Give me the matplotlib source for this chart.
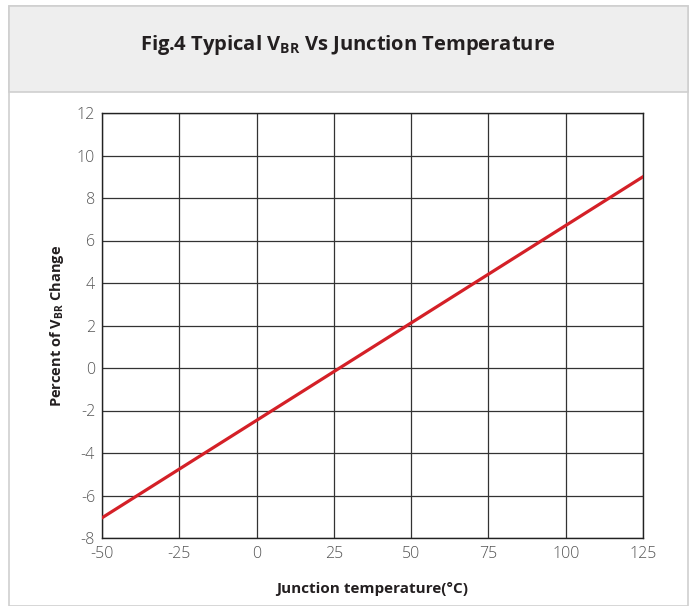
import matplotlib
matplotlib.use("Agg")
import matplotlib.pyplot as plt
from matplotlib.patches import Rectangle

temps = [-50, 125]
vbr_change = [-7.05, 9.0]
xticks = [-50, -25, 0, 25, 50, 75, 100, 125]
yticks = [-8, -6, -4, -2, 0, 2, 4, 6, 8, 10, 12]

plt.rcParams['font.family'] = ['Open Sans', 'DejaVu Sans']
plt.rcParams['mathtext.fontset'] = 'custom'
plt.rcParams['mathtext.rm'] = 'Open Sans'
plt.rcParams['mathtext.bf'] = 'Open Sans:bold'
plt.rcParams['axes.unicode_minus'] = False

fig = plt.figure(figsize=(6.96, 6.06), dpi=100)
W, H = 696, 606
# outer frame and header band
fig.patches.append(Rectangle((9/W, 0), (688-9)/W, (606-6)/H, transform=fig.transFigure,
                             facecolor='white', edgecolor='#cfcfcf', lw=1.2, zorder=-2))
fig.patches.append(Rectangle((9/W, 1-92/H), (688-9)/W, (92-6)/H, transform=fig.transFigure,
                             facecolor='#eeeeee', edgecolor='#cfcfcf', lw=1.2, zorder=-1))
fig.text(0.5, 1-45/H, r'Fig.4 Typical V$_{\mathbf{BR}}$ Vs Junction Temperature',
         ha='center', va='center', fontsize=14.5, fontweight='bold', color='#231f20')

ax = fig.add_axes([102/W, 1-538/H, (643-102)/W, (538-113)/H])
ax.patch.set_alpha(0)
ax.plot(temps, vbr_change, color='#d42027', lw=2.3, zorder=3)
ax.set_xlim(-50, 125)
ax.set_ylim(-8, 12)
ax.set_xticks(xticks)
ax.set_yticks(yticks)
ax.grid(True, color='#333333', lw=0.9)
ax.tick_params(length=0, labelsize=11.5, labelcolor='#555555')
ax.tick_params(axis='x', pad=6)
ax.tick_params(axis='y', pad=5)
for lab in ax.get_xticklabels() + ax.get_yticklabels():
    lab.set_fontweight('light')
for s in ax.spines.values():
    s.set_color('#222222')
    s.set_linewidth(1.0)
ax.set_xlabel('Junction temperature(°C)', fontsize=11, fontweight='bold', color='#231f20', labelpad=14)
ax.set_ylabel(r'Percent of V$_{\mathbf{BR}}$ Change', fontsize=10.5, fontweight='bold', color='#231f20', labelpad=8)

fig.savefig('out.png', dpi=100)
